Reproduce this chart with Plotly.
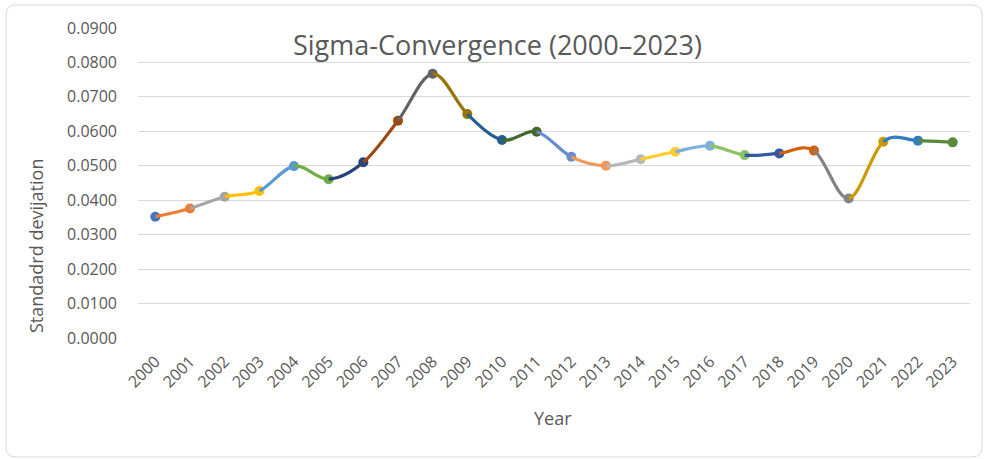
import plotly.graph_objects as go

years = list(range(2000, 2024))
sigma = [0.0352, 0.0376, 0.0410, 0.0427, 0.0499, 0.0461, 0.0510, 0.0631,
         0.0767, 0.0650, 0.0575, 0.0599, 0.0526, 0.0500, 0.0519, 0.0541,
         0.0558, 0.0531, 0.0536, 0.0544, 0.0405, 0.0570, 0.0573, 0.0568]
colors = ["#4472C4", "#ED7D31", "#A5A5A5", "#FFC000", "#5B9BD5", "#70AD47",
          "#264478", "#9E480E", "#636363", "#997300", "#255E91", "#43682B",
          "#698ED0", "#F1975A", "#B7B7B7", "#FFCD33", "#7CAFDD", "#8CC168",
          "#335AA1", "#D26012", "#848484", "#CC9A00", "#327DC2", "#5A8A39"]
yticks = [i / 100 for i in range(10)]

FONT = "Open Sans"
GREY = "#595959"

W, H = 987, 459
L, R, T, B = 138, 17, 28, 121
PW, PH = W - L - R, H - T - B


def px(xp):
    return (xp - L) / PW


def py(yp):
    return (H - B - yp) / PH


fig = go.Figure()

# smoothed segments (Excel-like Bezier), each coloured like its end point
shapes = []
n = len(years)
for i in range(n - 1):
    p0 = (years[max(i - 1, 0)], sigma[max(i - 1, 0)])
    p1 = (years[i], sigma[i])
    p2 = (years[i + 1], sigma[i + 1])
    p3 = (years[min(i + 2, n - 1)], sigma[min(i + 2, n - 1)])
    c1 = (p1[0] + (p2[0] - p0[0]) / 6, p1[1] + (p2[1] - p0[1]) / 6)
    c2 = (p2[0] - (p3[0] - p1[0]) / 6, p2[1] - (p3[1] - p1[1]) / 6)
    path = f"M {p1[0]},{p1[1]} C {c1[0]},{c1[1]} {c2[0]},{c2[1]} {p2[0]},{p2[1]}"
    shapes.append(dict(type="path", xref="x", yref="y", path=path,
                       line=dict(color=colors[i + 1], width=3.2), layer="above"))

fig.add_trace(go.Scatter(
    x=years, y=sigma, mode="markers",
    marker=dict(color=colors, size=10, line=dict(width=0)),
    showlegend=False, cliponaxis=False,
))

# chart border (rounded rectangle)
x0, x1, y0, y1, rr = px(6), px(982), py(457), py(5), 10
rx, ry = rr / PW, rr / PH
border = (f"M {x0 + rx},{y1} L {x1 - rx},{y1} Q {x1},{y1} {x1},{y1 - ry} "
          f"L {x1},{y0 + ry} Q {x1},{y0} {x1 - rx},{y0} "
          f"L {x0 + rx},{y0} Q {x0},{y0} {x0},{y0 + ry} "
          f"L {x0},{y1 - ry} Q {x0},{y1} {x0 + rx},{y1} Z")
shapes.append(dict(type="path", xref="paper", yref="paper", path=border,
                   layer="below", line=dict(color="#D9D9D9", width=1)))

fig.update_layout(
    width=W, height=H,
    margin=dict(l=L, r=R, t=T, b=B),
    paper_bgcolor="white", plot_bgcolor="white",
    font=dict(family=FONT, color=GREY, size=16),
    shapes=shapes,
    xaxis=dict(
        tickmode="array", tickvals=years, ticktext=[str(y) for y in years],
        tickangle=-45, range=[years[0] - 0.5, years[-1] + 0.5],
        showgrid=False, zeroline=False, showline=False, ticks="",
        ticklabelstandoff=10,
        tickfont=dict(size=16, color=GREY),
    ),
    yaxis=dict(
        range=[0, 0.09], tickvals=yticks, tickformat=".4f",
        showgrid=True, gridcolor="#D9D9D9", gridwidth=1,
        zeroline=False, showline=False, ticks="",
        ticklabelstandoff=20,
        tickfont=dict(size=16, color=GREY),
    ),
    annotations=[
        dict(text="Sigma-Convergence (2000–2023)", xref="paper", yref="paper",
             x=px(497), y=py(44), xanchor="center", yanchor="middle",
             showarrow=False, font=dict(size=27, color=GREY, family=FONT)),
        dict(text="Standadrd devijation", xref="paper", yref="paper",
             x=px(36), y=py(246), textangle=-90,
             xanchor="center", yanchor="middle", showarrow=False,
             font=dict(size=18, color=GREY, family=FONT)),
        dict(text="Year", xref="paper", yref="paper",
             x=px(553), y=py(418),
             xanchor="center", yanchor="middle", showarrow=False,
             font=dict(size=18, color=GREY, family=FONT)),
    ],
)

fig.write_html("out.html")
